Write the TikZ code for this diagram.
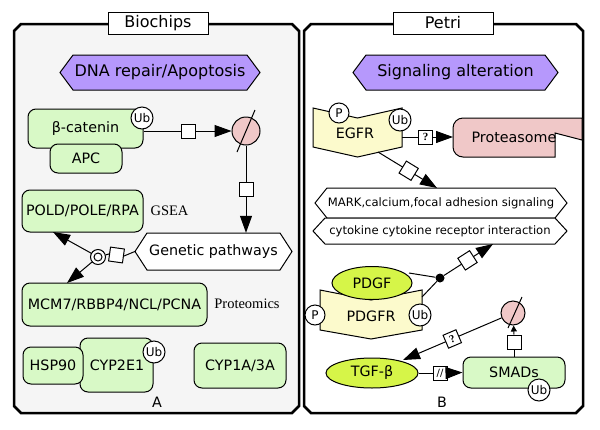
\documentclass[tikz,border=0pt]{standalone}
\usepackage{fontspec}
\setmainfont{DejaVu Sans}
\newfontfamily\serifface{Liberation Serif}
\usetikzlibrary{arrows.meta,calc,shapes.geometric}
\definecolor{protgreen}{RGB}{216,249,198}
\definecolor{leftgray}{RGB}{245,245,245}
\definecolor{phenopurple}{RGB}{182,152,252}
\definecolor{degpink}{RGB}{240,200,200}
\definecolor{recepyellow}{RGB}{252,250,204}
\definecolor{ligandgreen}{RGB}{214,245,72}
\begin{document}
\begin{tikzpicture}[x=1pt,y=-1pt,
  comp/.style={line width=2.5pt, line join=miter},
  titlebox/.style={draw, fill=white, line width=1pt, minimum width=100pt, minimum height=22pt, inner sep=0pt, font=\fontsize{16}{18}\selectfont},
  pheno/.style={draw, fill=phenopurple, line width=1pt},
  phtext/.style={font=\fontsize{16}{18}\selectfont, inner sep=0pt},
  prot/.style={draw, fill=protgreen, rounded corners=8pt, line width=1pt, inner sep=0pt, font=\fontsize{14.3}{16}\selectfont},
  modc/.style={circle, draw, fill=white, line width=1pt, minimum size=22pt, inner sep=0pt, font=\fontsize{12}{13}\selectfont},
  sqbox/.style={draw, fill=white, line width=1pt, minimum size=14pt, inner sep=0pt, font=\serifface\bfseries\fontsize{11}{12}\selectfont},
  degc/.style={circle, draw, fill=degpink, line width=1pt, inner sep=0pt},
  recep/.style={draw, fill=recepyellow, line width=1pt, line join=miter},
  lig/.style={ellipse, draw, fill=ligandgreen, line width=1pt, inner sep=0pt, font=\fontsize{14.3}{16}\selectfont},
  hexw/.style={draw, fill=white, line width=1pt},
  arr/.style={line width=1pt, -{Triangle[length=17pt,width=12pt]}},
  smallarr/.style={line width=1pt, -{Triangle[length=6pt,width=6pt]}},
  link/.style={line width=1pt},
  lbl/.style={font=\fontsize{14.3}{16}\selectfont, inner sep=0pt},
  smalllbl/.style={font=\fontsize{11.6}{13}\selectfont, inner sep=0pt},
  serlbl/.style={font=\serifface\fontsize{14.5}{16}\selectfont, inner sep=0pt}]
\useasboundingbox (0,0) rectangle (600,429);
\fill[white] (0,0) rectangle (600,429);

% compartments
\draw[comp, fill=leftgray] (14,31) -- (21,24) -- (292,24) -- (299,31) -- (299,406) -- (292,413) -- (21,413) -- (14,406) -- cycle;
\draw[comp, fill=white] (304,31) -- (311,24) -- (576,24) -- (583,31) -- (583,406) -- (576,413) -- (311,413) -- (304,406) -- cycle;
\node[titlebox] (tA) at (158,23) {Biochips};
\node[titlebox] (tB) at (443,23) {Petri};

% phenotypes
\draw[pheno] (60,72.5) -- (73,55) -- (247,55) -- (260,72.5) -- (247,90) -- (73,90) -- cycle;
\node[phtext] (dna) at (160,72.5) {DNA repair/Apoptosis};
\draw[pheno] (353,72.5) -- (366,55) -- (545,55) -- (558,72.5) -- (545,90) -- (366,90) -- cycle;
\node[phtext] (sig) at (455.5,72.5) {Signaling alteration};

% ---------- left panel ----------
\node[prot, minimum width=115pt, minimum height=39pt] (bcat) at (85.5,128.5) {β-catenin};
\node[prot, minimum width=72pt, minimum height=29pt] (apc) at (86,158.5) {APC};
\node[modc] (ubA) at (142,118) {Ub};
\node[sqbox] (sq1) at (188,131) {};
\node[degc, minimum size=28pt] (degA) at (246,131) {};
\draw[link] ($(degA)+(-9,21)$) -- ($(degA)+(9,-21)$);
\draw[link] (bcat.east |- sq1) -- (sq1.west);
\draw[arr] (sq1.east) -- (degA);

\draw[hexw] (135,251.5) -- (147,233) -- (280,233) -- (292,251.5) -- (280,270) -- (147,270) -- cycle;
\node[lbl, minimum width=157pt, minimum height=37pt] (gp) at (213.5,251.5) {Genetic pathways};
\node[sqbox] (sq2) at (246,189.5) {};
\draw[link] (degA) -- (sq2.north);
\draw[arr] (sq2.south) -- (sq2.south |- gp.north);

\node[prot, minimum width=121pt, minimum height=42pt] (pold) at (82.5,211) {POLD/POLE/RPA};
\node[serlbl] (gsea) at (169.5,211) {GSEA};
\node[prot, minimum width=185pt, minimum height=43pt] (mcm) at (114.5,304.5) {MCM7/RBBP4/NCL/PCNA};
\node[serlbl] (prm) at (247,304) {Proteomics};
\coordinate (poldin) at (53,232);
\coordinate (mcmin) at (67,283);

\node[circle, draw, fill=white, line width=1pt, minimum size=15pt, inner sep=0pt] (assoc) at (98,257) {};
\node[circle, draw, line width=1pt, minimum size=8pt, inner sep=0pt] (associn) at (assoc) {};
\node[sqbox, rotate=-8] (sq3) at (116.5,255) {};
\draw[link] (gp.west) -- (sq3.east);
\draw[link] (sq3.west) -- (assoc);
\draw[arr] (assoc) -- (poldin);
\draw[arr] (assoc) -- (mcmin);

\node[prot, minimum width=73pt, minimum height=54pt] (cyp2) at (116.5,365) {\hspace*{1pt}CYP2E1};
\node[prot, minimum width=60pt, minimum height=37pt] (hsp) at (53,365.5) {HSP90};
\node[modc] (ubC) at (154,352) {Ub};
\node[prot, minimum width=92pt, minimum height=45pt] (cyp1) at (240,365.5) {CYP1A/3A};
\node[lbl] (labA) at (157,402) {A};

% ---------- right panel ----------
\draw[recep] (313,108) -- (357.5,118) -- (402,108) -- (402,147) -- (357.5,157) -- (313,147) -- cycle;
\node[lbl] (egfr) at (355,133) {EGFR};
\node[modc, minimum size=20pt] (pE) at (339,113) {P};
\node[modc] (ubE) at (400,120) {Ub};
\coordinate (egfrR) at (402,137);
\coordinate (egfrB) at (378,152);

\draw[fill=degpink, line width=1pt] (555,157) -- (463,157) .. controls (457.5,157) and (453,152.5) .. (453,147) -- (453,128) .. controls (453,122.5) and (457.5,118) .. (463,118) -- (582,118) -- (582,140) -- (555,133) -- cycle;
\node[lbl] (prot) at (514,137) {Proteasome};
\coordinate (protL) at (453,137);
\node[sqbox] (sq4) at (425.5,137) {?};
\draw[link] (egfrR) -- (sq4.west);
\draw[arr] (sq4.east) -- (protL);

\draw[hexw] (315,203) -- (327,188) -- (555,188) -- (567,203) -- (555,218) -- (327,218) -- cycle;
\node[smalllbl] (mark) at (441,203) {MARK,calcium,focal adhesion signaling};
\draw[hexw] (313,231) -- (325,218) -- (555,218) -- (567,231) -- (555,244) -- (325,244) -- cycle;
\node[smalllbl] (cyto) at (440,231) {cytokine cytokine receptor interaction};
\coordinate (markT) at (437,188);
\coordinate (cytoB) at (493,244);
\draw[arr] (egfrB) -- node[sqbox, sloped, pos=0.52] (sq7) {} (markT);

\draw[recep] (320,290) -- (371,300) -- (422,290) -- (422,330) -- (371,339) -- (320,330) -- cycle;
\node[lbl] (pdgfr) at (371,316) {PDGFR};
\node[modc, minimum size=20pt] (pP) at (315,315) {P};
\node[modc] (ubP) at (420,315) {Ub};
\node[lig, minimum width=80pt, minimum height=33pt] (pdgf) at (372,283) {PDGF};
\coordinate (pdgfR) at (409,273);
\coordinate (pdgfrR) at (422,297);
\node[circle, fill=black, minimum size=9pt, inner sep=0pt] (dot) at (440,278) {};
\draw[link] (pdgfR) -- (dot);
\draw[link] (pdgfrR) -- (dot);
\draw[arr] (dot) -- node[sqbox, sloped, pos=0.48] (sq8) {} (cytoB);

\node[prot, minimum width=102pt, minimum height=31pt] (smad) at (514,372.5) {SMADs};
\node[modc] (ubS) at (539,390) {Ub};
\node[degc, minimum size=24pt] (degB) at (513,313) {};
\draw[link] ($(degB)+(-5,15)$) -- ($(degB)+(9,-16)$);
\node[sqbox] (sq5) at (514,342) {};
\draw[link] (smad.north -| sq5) -- (sq5.south);
\draw[smallarr] (sq5.north) -- (degB);

\node[lig, minimum width=92pt, minimum height=30pt] (tgf) at (372,373) {TGF-β};
\coordinate (tgfin) at (403,360);
\draw[arr] (degB) -- node[sqbox, sloped, pos=0.5] (sq9) {?} (tgfin);
\node[sqbox, font=\fontsize{10}{11}\selectfont] (sq6) at (440,373) {//};
\draw[link] (tgf.east) -- (sq6.west);
\draw[arr] (sq6.east) -- (smad.west);
\node[lbl] (labB) at (442,402) {B};
\end{tikzpicture}
\end{document}
